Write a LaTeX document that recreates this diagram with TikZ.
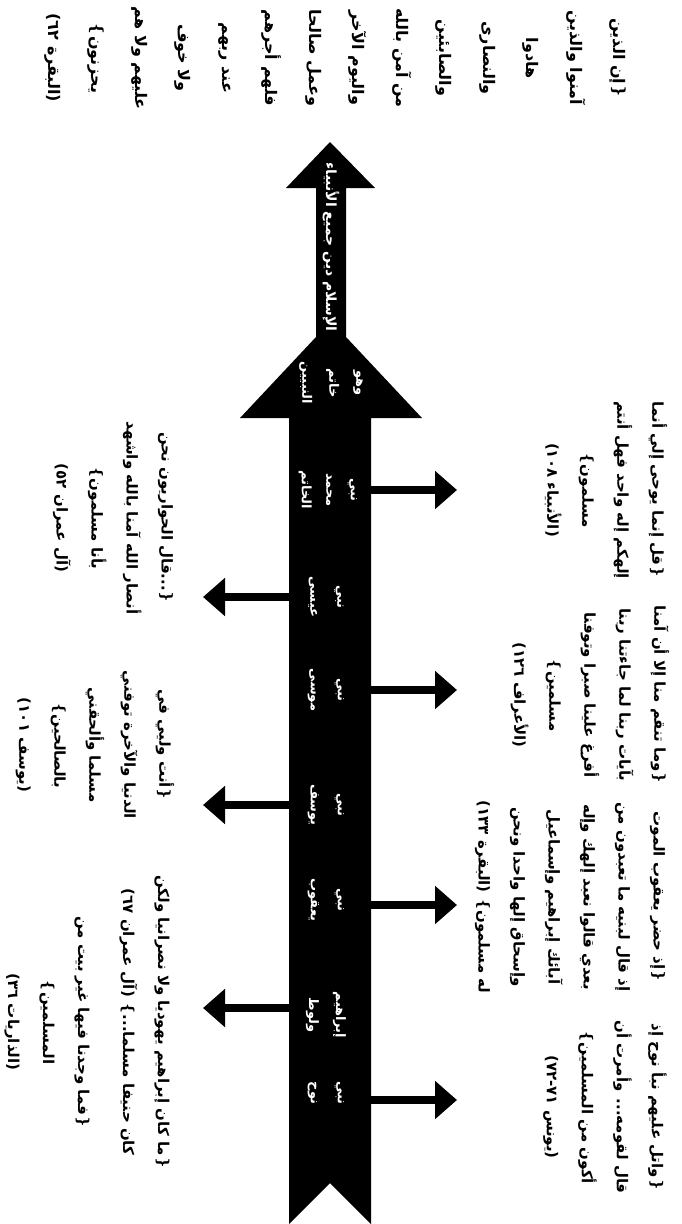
\documentclass[tikz,border=0pt]{standalone}
\usepackage{fontspec}
\usetikzlibrary{arrows.meta}
\TeXXeTstate=1
\newfontfamily\arfont[Script=Arabic]{DejaVu Sans}
\newfontfamily\ornfont{DejaVu Sans}
\newcommand{\arl}[1]{\beginR #1\endR}
\newcommand{\ob}{\hbox{\ornfont\mdseries ❵}}
\newcommand{\cb}{\hbox{\ornfont\mdseries ❴}}
\begin{document}
\begin{tikzpicture}[x=1pt,y=-1pt,
  verse/.style={rotate=-90, align=center, inner sep=0pt, font=\arfont\bfseries\fontsize{15}{35}\selectfont},
  topverse/.style={rotate=-90, align=center, inner sep=0pt, font=\arfont\bfseries\fontsize{16}{43.5}\selectfont},
  bandlabel/.style={rotate=-90, align=center, inner sep=0pt, text=white, font=\arfont\bfseries\fontsize{13}{27}\selectfont},
  conn/.style={line width=8pt, -{Triangle[length=22pt,width=37pt]}},
]
\path[use as bounding box] (0,0) rectangle (682,1224);

% main band with arrow heads
\fill[black] (289,1224) -- (330,1183) -- (371,1224) -- (371,418) -- (422,418)
  -- (346,337) -- (346,188) -- (375,188) -- (330,142) -- (286,188) -- (316,188)
  -- (316,337) -- (240,418) -- (289,418) -- cycle;

% top verse
\node[topverse] (top) at (335,58) {\arl{\ob إن الذين}\\\arl{آمنوا والذين}\\\arl{هادوا}\\\arl{والنصارى}\\\arl{والصابئين}\\\arl{من آمن بالله}\\\arl{واليوم الآخر}\\\arl{وعمل صالحا}\\\arl{فلهم أجرهم}\\\arl{عند ربهم}\\\arl{ولا خوف}\\\arl{عليهم ولا هم}\\\arl{يحزنون\cb}\\\arl{(البقرة ٦٢)}};

% band labels
\node[bandlabel, font=\arfont\bfseries\fontsize{14}{27}\selectfont] (shaft) at (331,247) {\arl{الإسلام دين جميع الأنبياء}};
\node[bandlabel] (head) at (331,383) {\arl{وهو}\\\arl{خاتم}\\\arl{النبيين}};
\node[bandlabel, font=\arfont\bfseries\fontsize{13}{24.5}\selectfont] (p7) at (328,490) {\arl{نبي}\\\arl{محمد}\\\arl{الخاتم}};
\node[bandlabel] (p6) at (326,597) {\arl{نبي}\\\arl{عيسى}};
\node[bandlabel] (p5) at (326,690) {\arl{نبي}\\\arl{موسى}};
\node[bandlabel] (p4) at (326,805) {\arl{نبي}\\\arl{يوسف}};
\node[bandlabel] (p3) at (326,900) {\arl{نبي}\\\arl{يعقوب}};
\node[bandlabel] (p2) at (326,1015) {\arl{إبراهيم}\\\arl{ولوط}};
\node[bandlabel] (p1) at (326,1093) {\arl{نبي}\\\arl{نوح}};

% connector end points
\coordinate (r4s) at (371,490);  \coordinate (r4e) at (457,490);
\coordinate (r3s) at (371,690);  \coordinate (r3e) at (457,690);
\coordinate (r2s) at (371,905);  \coordinate (r2e) at (457,905);
\coordinate (r1s) at (371,1100); \coordinate (r1e) at (457,1100);
\coordinate (l3s) at (289,597);  \coordinate (l3e) at (203,597);
\coordinate (l2s) at (289,805);  \coordinate (l2e) at (203,805);
\coordinate (l1s) at (289,1008); \coordinate (l1e) at (203,1008);

\draw[conn] (r4s) -- (r4e);
\draw[conn] (r3s) -- (r3e);
\draw[conn] (r2s) -- (r2e);
\draw[conn] (r1s) -- (r1e);
\draw[conn] (l3s) -- (l3e);
\draw[conn] (l2s) -- (l2e);
\draw[conn] (l1s) -- (l1e);

% right verses
\node[verse] (v4) at (606,490) {\arl{\ob قل إنما يوحى إلي أنما}\\\arl{إلهكم إله واحد فهل أنتم}\\\arl{مسلمون\cb}\\\arl{(الأنبياء ١٠٨)}};
\node[verse] (v3) at (590,695) {\arl{\ob وما تنقم منا إلا أن آمنا}\\\arl{بآيات ربنا لما جاءتنا ربنا}\\\arl{أفرغ علينا صبرا وتوفنا}\\\arl{مسلمين\cb}\\\arl{(الأعراف ١٢٦)}};
\node[verse] (v2) at (570,897) {\arl{\ob إذ حضر يعقوب الموت}\\\arl{إذ قال لبنيه ما تعبدون من}\\\arl{بعدي قالوا نعبد إلهك وإله}\\\arl{آبائك إبراهيم وإسماعيل}\\\arl{وإسحاق إلها واحدا ونحن}\\\arl{له مسلمون\cb\ (البقرة ١٣٣)}};
\node[verse] (v1) at (605,1107) {\arl{\ob واتل عليهم نبأ نوح إذ}\\\arl{قال لقومه... وأمرت أن}\\\arl{أكون من المسلمين\cb}\\\arl{(يونس ٧١-٧٢)}};

% left verses
\node[verse] (w3) at (113,518) {\arl{\ob ...قال الحواريون نحن}\\\arl{أنصار الله آمنا بالله واشهد}\\\arl{بأنا مسلمون\cb}\\\arl{(آل عمران ٥٢)}};
\node[verse] (w2) at (95,745) {\arl{\ob أنت وليي في}\\\arl{الدنيا والآخرة توفني}\\\arl{مسلما وألحقني}\\\arl{بالصالحين\cb}\\\arl{(يوسف ١٠١)}};
\node[verse] (w1) at (87,1022) {\arl{\ob ما كان إبراهيم يهوديا ولا نصرانيا ولكن}\\\arl{كان حنيفا مسلما...\cb\ (آل عمران ٦٧)}\\[10pt]\arl{\ob فما وجدنا فيها غير بيت من}\\\arl{المسلمين\cb}\\\arl{(الذاريات ٣٦)}};
\end{tikzpicture}
\end{document}
